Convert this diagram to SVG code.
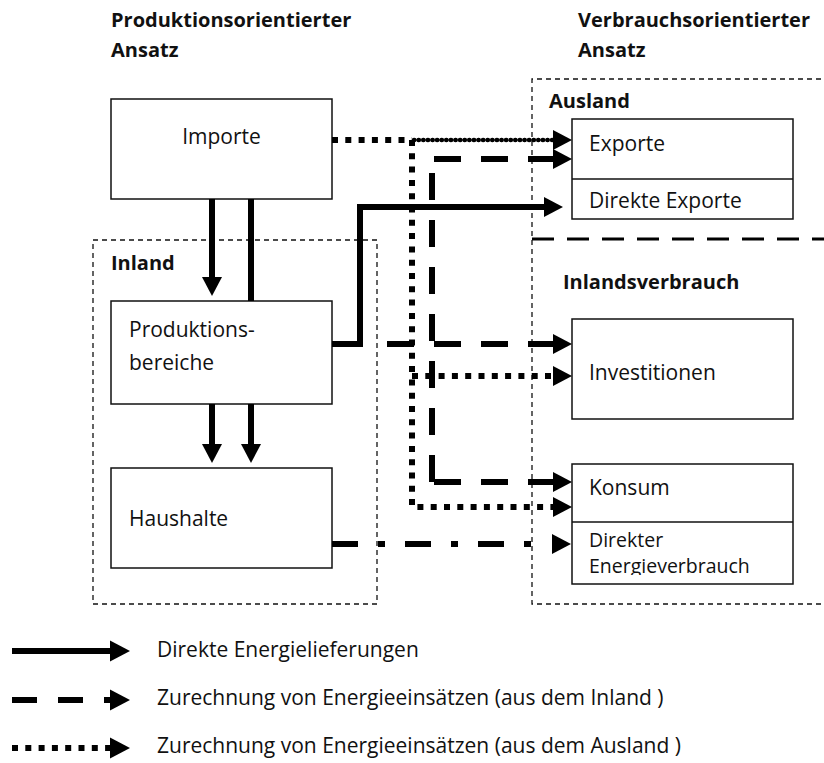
<svg xmlns="http://www.w3.org/2000/svg" xmlns:xlink="http://www.w3.org/1999/xlink" width="824" height="763" viewBox="0 0 824 763">
<style>
text{font-family:"Open Sans","Noto Sans","DejaVu Sans",sans-serif;font-size:21px;fill:#111}
.b{font-weight:bold;font-size:20px}
.sm{font-size:19.5px}
.box{fill:#fff;stroke:#111;stroke-width:1.5}
.area{fill:none;stroke:#111;stroke-width:1.3;stroke-dasharray:5 4}
.sol{fill:none;stroke:#000;stroke-width:6}
.dash{fill:none;stroke:#000;stroke-width:6;stroke-dasharray:27 20}
.dot{fill:none;stroke:#000;stroke-width:6;stroke-dasharray:6 7.3}
.bead{fill:none;stroke:#000;stroke-width:4.5;stroke-linecap:round;stroke-dasharray:0.3 4.3}
.dd{fill:none;stroke:#000;stroke-width:6;stroke-dasharray:26 20 7 20}
.ld{fill:none;stroke:#000;stroke-width:3;stroke-dasharray:22 13}
</style>
<defs>
<path id="ah" d="M0,0 L-19,-10 L-19,10 Z" fill="#000"/>
<path id="ahL" d="M0,0 L-20,-10.5 L-20,10.5 Z" fill="#000"/>
<clipPath id="clipE"><rect x="572" y="523" width="221" height="52"/></clipPath>
</defs>
<rect width="824" height="763" fill="#fff"/>

<g id="headers">
<text class="b" x="111" y="27">Produktionsorientierter</text>
<text class="b" x="111" y="57">Ansatz</text>
<text class="b" x="578" y="27">Verbrauchsorientierter</text>
<text class="b" x="578" y="57">Ansatz</text>
</g>

<g id="inland-area">
<rect class="area" x="93" y="240" width="284" height="364"/>
<text class="b" x="111" y="270">Inland</text>
</g>

<g id="verbrauch-area">
<path class="area" d="M830,79 H532 V604 H830"/>
<path class="ld" d="M532,239 H824"/>
<text class="b" x="549" y="108">Ausland</text>
<text class="b" x="563" y="289">Inlandsverbrauch</text>
</g>

<g id="importe">
<rect class="box" x="111" y="99" width="221" height="100"/>
<text x="221.5" y="144" text-anchor="middle">Importe</text>
</g>

<g id="produktionsbereiche">
<rect class="box" x="111" y="301" width="221" height="103"/>
<text x="129" y="337">Produktions-</text>
<text x="129" y="370">bereiche</text>
</g>

<g id="haushalte">
<rect class="box" x="111" y="468" width="221" height="100"/>
<text x="129" y="526">Haushalte</text>
</g>

<g id="exporte">
<rect class="box" x="572" y="119" width="221" height="100"/>
<line x1="572" y1="179" x2="793" y2="179" stroke="#111" stroke-width="1.5"/>
<text x="589" y="151">Exporte</text>
<text x="589" y="208">Direkte Exporte</text>
</g>

<g id="investitionen">
<rect class="box" x="572" y="319" width="221" height="100"/>
<text x="589" y="380">Investitionen</text>
</g>

<g id="konsum">
<rect class="box" x="572" y="464" width="221" height="120"/>
<line x1="572" y1="522" x2="793" y2="522" stroke="#111" stroke-width="1.5"/>
<text x="589" y="495">Konsum</text>
<text class="sm" x="589" y="547">Direkter</text>
<text class="sm" x="589" y="573" clip-path="url(#clipE)">Energieverbrauch</text>
</g>

<g id="connectors">
<!-- solid -->
<path class="sol" d="M212,199 V278"/>
<use xlink:href="#ah" transform="translate(212,296) rotate(90)"/>
<path class="sol" d="M251,199 V301"/>
<path class="sol" d="M212,404 V445"/>
<use xlink:href="#ah" transform="translate(212,463) rotate(90)"/>
<path class="sol" d="M251,404 V445"/>
<use xlink:href="#ah" transform="translate(251,463) rotate(90)"/>
<path class="sol" d="M332,344 H360 V207 H545"/>
<use xlink:href="#ah" x="563" y="207"/>
<!-- dotted (Ausland) -->
<path class="dot" d="M332,140 H412"/>
<path class="bead" d="M414,140 H556"/>
<use xlink:href="#ah" x="572" y="140"/>
<path class="dot" d="M412,140 V507 H555"/>
<path class="dot" d="M412,376 H555"/>
<use xlink:href="#ah" x="572" y="376"/>
<use xlink:href="#ah" x="572" y="507"/>
<!-- dashed (Inland) -->
<path class="dash" d="M555,159 H432"/>
<use xlink:href="#ah" x="572" y="159"/>
<path class="dash" d="M432,482 V159"/>
<path class="dash" d="M555,482 H432"/>
<use xlink:href="#ah" x="572" y="482"/>
<path class="dash" d="M555,344 H378"/>
<use xlink:href="#ah" x="572" y="344"/>
<!-- dash-dot -->
<path class="dd" d="M332,544 H532"/>
<use xlink:href="#ah" x="571" y="544"/>
</g>

<g id="legend">
<path class="sol" d="M12,651 H112"/>
<use xlink:href="#ahL" x="130" y="651"/>
<text x="157" y="657">Direkte Energielieferungen</text>
<path class="dash" d="M12,700 H112" style="stroke-dasharray:25 21"/>
<use xlink:href="#ahL" x="130" y="700"/>
<text x="157" y="705">Zurechnung von Energieeinsätzen (aus dem Inland )</text>
<path class="dot" d="M12,748 H112"/>
<use xlink:href="#ahL" x="130" y="748"/>
<text x="157" y="753">Zurechnung von Energieeinsätzen (aus dem Ausland )</text>
</g>
</svg>
